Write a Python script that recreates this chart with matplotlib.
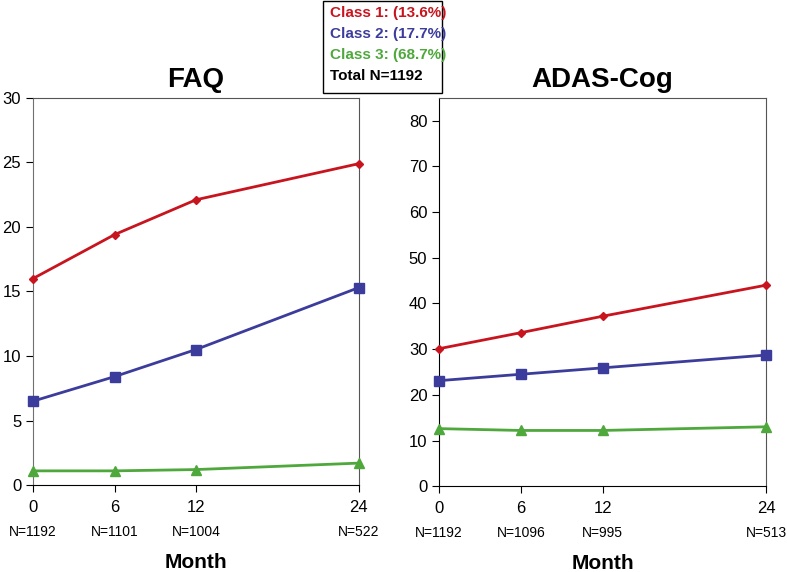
import matplotlib.pyplot as plt

plt.rcParams['font.family'] = ['Liberation Sans', 'DejaVu Sans']

months = [0, 6, 12, 24]
faq_c1 = [16.0, 19.4, 22.1, 24.9]
faq_c2 = [6.5, 8.4, 10.5, 15.3]
faq_c3 = [1.1, 1.1, 1.2, 1.7]
adas_c1 = [30.1, 33.6, 37.2, 44.0]
adas_c2 = [23.1, 24.5, 25.9, 28.7]
adas_c3 = [12.6, 12.2, 12.2, 13.0]
faq_n = ['N=1192', 'N=1101', 'N=1004', 'N=522']
adas_n = ['N=1192', 'N=1096', 'N=995', 'N=513']
legend_lines = ['Class 1: (13.6%)', 'Class 2: (17.7%)', 'Class 3: (68.7%)', 'Total N=1192']

red = '#c8141e'
blue = '#3c3c9c'
green = '#4ea83c'
colors = [red, blue, green, 'black']

fig = plt.figure(figsize=(7.87, 5.72), dpi=100)
ax1 = fig.add_axes([0.042, 0.152, 0.414, 0.677])
ax2 = fig.add_axes([0.558, 0.150, 0.4155, 0.679])

def draw(ax, c1, c2, c3, ylim, yticks, title, nlabels, left_col):
    ax.plot(months, c1, color=red, marker='D', markersize=4.5, lw=2, clip_on=False, zorder=3)
    ax.plot(months, c2, color=blue, marker='s', markersize=6.5, lw=2, clip_on=False, zorder=3)
    ax.plot(months, c3, color=green, marker='^', markersize=7, lw=2, clip_on=False, zorder=3)
    ax.set_xlim(0, 24)
    ax.set_ylim(*ylim)
    ax.set_yticks(yticks)
    ax.set_xticks(months)
    ax.tick_params(labelsize=12, length=5, direction='out')
    ax.tick_params(axis='x', pad=6)
    ax.spines['left'].set_color(left_col)
    ax.spines['top'].set_color('#555555')
    ax.spines['right'].set_color('#555555')
    ax.spines['bottom'].set_color('black')
    ax.set_title(title, fontsize=20, fontweight='bold', pad=8)
    for m, lab in zip(months, nlabels):
        ax.annotate(lab, xy=(m, 0), xycoords=('data', 'axes fraction'),
                    xytext=(0, -34), textcoords='offset points',
                    ha='center', va='center', fontsize=10)
    ax.text(0.5, -0.2, 'Month', transform=ax.transAxes, ha='center', va='center',
            fontsize=15, fontweight='bold')

draw(ax1, faq_c1, faq_c2, faq_c3, (0, 30), range(0, 31, 5), 'FAQ', faq_n, '#707070')
draw(ax2, adas_c1, adas_c2, adas_c3, (0, 85), range(0, 81, 10), 'ADAS-Cog', adas_n, 'black')

# legend box
fig.patches.append(plt.Rectangle((323 / 787, 1 - 93 / 572), 119 / 787, 92 / 572,
                                 transform=fig.transFigure, fill=False,
                                 edgecolor='black', lw=1))
for i, (t, c) in enumerate(zip(legend_lines, colors)):
    fig.text(330 / 787, 1 - (13 + i * 21) / 572, t, color=c, fontsize=11,
             fontweight='bold', ha='left', va='center')

fig.savefig('out.png', dpi=100)
